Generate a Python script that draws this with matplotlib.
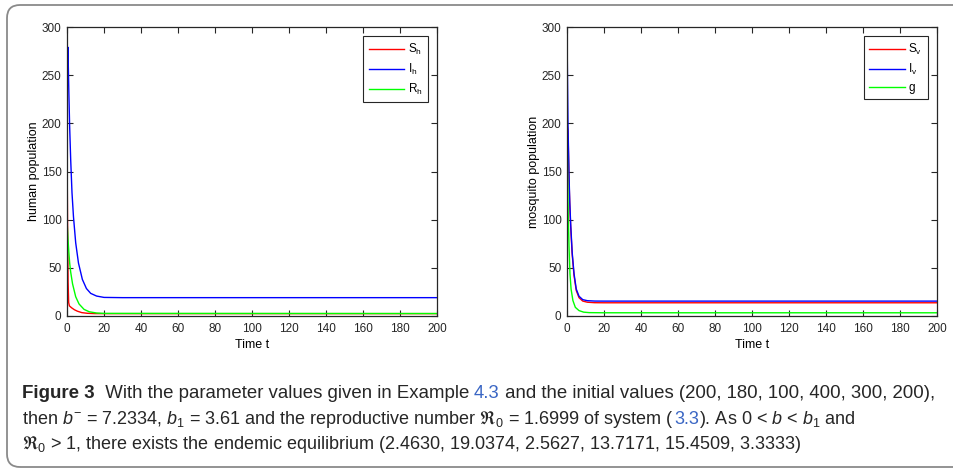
import matplotlib
matplotlib.use('Agg')
import matplotlib.pyplot as plt
from matplotlib.patches import FancyBboxPatch

# Valores (população humana)
t_sh = [0, 0.3, 0.6, 0.9, 1.3, 2.5, 4, 5.6, 8, 11, 15, 20, 200]
s_h = [180, 95, 35, 14, 10.5, 8.5, 6.5, 5, 3.5, 2.8, 2.5, 2.46, 2.46]

t_ih = [0, 0.1, 0.25, 0.5, 1.0, 1.44, 2.0, 2.7, 3.5, 4.7, 6.2, 8.3, 10.5, 12.8, 16, 20, 30, 200]
i_h = [180, 225, 265, 279, 232, 196, 162, 128, 103, 76, 55, 38, 28.5, 23.5, 20.7, 19.3, 19.05, 19.04]

t_rh = [0, 0.5, 1.0, 1.44, 2.0, 3.0, 4.7, 6.5, 9.2, 12, 16, 20, 200]
r_h = [100, 81, 66, 55, 45.5, 33.4, 20, 12.5, 6.9, 4.4, 3.1, 2.7, 2.56]

# Valores (população de mosquitos)
t_sv = [0, 0.05, 0.15, 0.54, 1.08, 1.5, 2.0, 2.8, 3.8, 5.0, 6.5, 8.5, 11, 15, 20, 200]
s_v = [105, 160, 197, 192, 143, 115, 92, 64, 42, 26.5, 19, 15.5, 14.3, 13.8, 13.72, 13.72]

t_iv = [0, 0.25, 0.54, 1.08, 1.5, 2.0, 2.8, 3.8, 5.0, 6.5, 8.5, 11, 15, 20, 200]
i_v = [300, 250, 199, 147, 118, 95, 66, 44, 28, 20.5, 17, 15.9, 15.5, 15.45, 15.45]

t_g = [0, 0.3, 0.72, 1.1, 1.6, 2.2, 3.2, 4.5, 6.5, 9, 12, 20, 200]
g = [200, 150, 100, 72, 44, 28, 16, 9, 5.6, 4.0, 3.5, 3.35, 3.33]

x_ticks = list(range(0, 201, 20))
y_ticks = list(range(0, 301, 50))

plt.rcParams['font.family'] = ['Liberation Sans', 'DejaVu Sans']
plt.rcParams['mathtext.fontset'] = 'custom'
plt.rcParams['mathtext.rm'] = 'Liberation Sans'
plt.rcParams['mathtext.it'] = 'Liberation Sans:italic'
plt.rcParams['mathtext.bf'] = 'Liberation Sans:bold'
plt.rcParams['mathtext.fallback'] = 'stix'

W, H = 954, 469
fig = plt.figure(figsize=(W / 100, H / 100), dpi=100)

# Moldura arredondada em volta da figura
moldura = FancyBboxPatch((7, 2), 1000, 462, boxstyle='round,pad=0,rounding_size=13',
                         transform=None, facecolor='none', edgecolor='#8a8a8a', linewidth=1.3)
fig.add_artist(moldura)


def monta_eixo(left, series, ylabel, labels):
    ax = fig.add_axes([left / W, (H - 316) / H, 370 / W, 289 / H])
    for (t, y), cor, lab in zip(series, ['#ff0000', '#0000ff', '#00ff00'], labels):
        ax.plot(t, y, color=cor, linewidth=1.0, label=lab)
    ax.set_xlim(0, 200)
    ax.set_ylim(0, 300)
    ax.set_xticks(x_ticks)
    ax.set_yticks(y_ticks)
    ax.tick_params(direction='in', top=True, right=True, length=4, width=0.8,
                   labelsize=8.5, colors='#262626')
    ax.tick_params(axis='x', pad=5)
    ax.tick_params(axis='y', pad=4)
    for sp in ax.spines.values():
        sp.set_color('#262626')
        sp.set_linewidth(0.9)
    ax.set_xlabel('Time t', fontsize=9, labelpad=3)
    ax.set_ylabel(ylabel, fontsize=9, labelpad=1)
    leg = ax.legend(loc='upper right', fontsize=8.5, handlelength=3.0, labelspacing=0.42,
                    borderaxespad=0.8, fancybox=False, framealpha=1, edgecolor='#262626',
                    handletextpad=0.3, borderpad=0.45)
    leg.get_frame().set_linewidth(0.8)
    return ax


monta_eixo(67, [(t_sh, s_h), (t_ih, i_h), (t_rh, r_h)], 'human population',
           ['S$_\\mathregular{h}$', 'I$_\\mathregular{h}$', 'R$_\\mathregular{h}$'])
monta_eixo(567, [(t_sv, s_v), (t_iv, i_v), (t_g, g)], 'mosquito population',
           ['S$_\\mathregular{v}$', 'I$_\\mathregular{v}$', 'g'])

# Legenda da figura, escrita por partes
renderer = fig.canvas.get_renderer()
azul = '#3a66c4'
normal = dict(fontsize=13, color='#262626')
link = dict(fontsize=13, color=azul)
negrito = dict(fontsize=13.5, color='#262626', fontweight='bold')
linha1 = dict(fontsize=13.4, color='#262626')
link1 = dict(fontsize=13.4, color=azul)

linhas = [
    (398, [('Figure 3', negrito),
           ('  With the parameter values given in Example ', linha1),
           ('4.3', link1),
           (' and the initial values (200, 180, 100, 400, 300, 200),', linha1)]),
    (424, [('then $b^{-}$ = 7.2334, $b_1$ = 3.61 and the reproductive number '
            '$\\Re_0$ = 1.6999 of system (', normal),
           ('3.3', link),
           ('). As 0 < $b$ < $b_1$ and', normal)]),
    (449, [('$\\Re_0$ > 1, there exists the endemic equilibrium '
            '(2.4630, 19.0374, 2.5627, 13.7171, 15.4509, 3.3333)', normal)]),
]

for y, partes in linhas:
    x = 22
    for texto, estilo in partes:
        t = fig.text(x / W, (H - y) / H, texto, va='baseline', ha='left', **estilo)
        bb = t.get_window_extent(renderer)
        x = bb.x1

fig.savefig('out.png', dpi=100)
